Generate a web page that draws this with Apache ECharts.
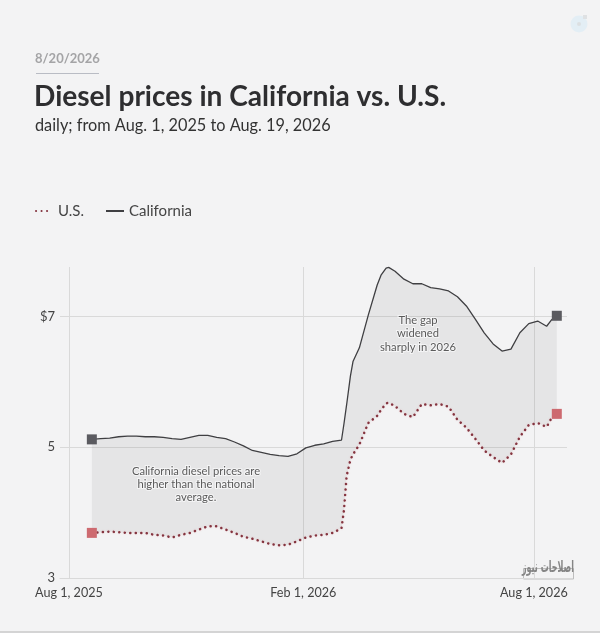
<!DOCTYPE html>
<html><head><meta charset="utf-8">
<style>html,body{margin:0;padding:0;background:#f3f3f4}#c{width:600px;height:633px}</style>
<script src="https://cdn.jsdelivr.net/npm/echarts@6/dist/echarts.min.js"></script>
</head><body><div id="c"></div>
<script>
const dates = ['2025-08-19','2025-08-26','2025-09-02','2025-09-09','2025-09-16','2025-09-23','2025-09-30','2025-10-07','2025-10-14','2025-10-21','2025-10-28','2025-11-04','2025-11-11','2025-11-18','2025-11-25','2025-12-02','2025-12-09','2025-12-16','2025-12-23','2025-12-30','2026-01-06','2026-01-13','2026-01-20','2026-01-27','2026-02-03','2026-02-10','2026-02-17','2026-02-24','2026-03-03','2026-03-05','2026-03-07','2026-03-10','2026-03-12','2026-03-17','2026-03-24','2026-03-31','2026-04-03','2026-04-07','2026-04-09','2026-04-14','2026-04-21','2026-04-28','2026-05-05','2026-05-12','2026-05-19','2026-05-26','2026-06-02','2026-06-09','2026-06-16','2026-06-23','2026-06-30','2026-07-07','2026-07-14','2026-07-21','2026-07-28','2026-08-04','2026-08-11','2026-08-15','2026-08-19'];
const california = [5.12,5.13,5.14,5.16,5.17,5.17,5.16,5.16,5.15,5.13,5.12,5.15,5.18,5.18,5.15,5.13,5.08,5.02,4.95,4.92,4.89,4.87,4.86,4.90,4.99,5.03,5.05,5.09,5.11,5.37,5.65,6.09,6.31,6.52,7.02,7.48,7.63,7.74,7.75,7.69,7.57,7.50,7.50,7.44,7.42,7.39,7.30,7.16,6.96,6.75,6.58,6.47,6.50,6.75,6.89,6.93,6.85,6.95,7.01];
const us = [3.69,3.70,3.71,3.70,3.69,3.69,3.69,3.66,3.65,3.62,3.66,3.69,3.74,3.79,3.79,3.74,3.69,3.63,3.60,3.56,3.52,3.50,3.51,3.56,3.62,3.65,3.66,3.69,3.76,4.05,4.56,4.81,4.89,5.04,5.37,5.48,5.57,5.67,5.68,5.63,5.51,5.46,5.66,5.64,5.66,5.62,5.42,5.30,5.13,4.95,4.85,4.76,4.89,5.16,5.34,5.37,5.31,5.45,5.51];
const xTicks = ['2025-08-01','2026-02-01','2026-08-01'];
const xTickLabels = ['Aug 1, 2025','Feb 1, 2026','Aug 1, 2026'];
const yTicks = [3,5,7];
const yTickLabels = ['3','5','$7'];

const FONT = 'Lato, "Open Sans", sans-serif';
const ts = s => { const p = s.split('-').map(Number); return +new Date(p[0], p[1]-1, p[2]); };
const pairs = arr => dates.map((d,i) => [ts(d), arr[i]]);
const GRID = '#d9d9d9';
const txt = (x,y,text,o) => ({type:'text',x,y,silent:true,style:Object.assign({text,fontFamily:FONT,fill:'#5a5a5a',fontSize:11.2},o)});
const legendText = {fontFamily:FONT,fontSize:15,color:'#444'};

const chart = echarts.init(document.getElementById('c'), null, {renderer:'canvas'});
chart.setOption({
  animation:false,
  backgroundColor:'#f3f3f4',
  grid:{left:60,right:33,top:267,bottom:55,containLabel:false},
  legend:[
    {left:35,top:203,padding:0,itemWidth:14,itemHeight:20,data:['U.S.'],itemStyle:{opacity:0},
     textStyle:Object.assign({padding:[0,0,0,3]},legendText)},
    {left:105,top:203,padding:0,itemWidth:18,itemHeight:20,data:['California'],itemStyle:{opacity:0},
     textStyle:legendText}
  ],
  xAxis:{
    type:'value',min:ts('2025-07-25'),max:ts('2026-08-27'),
    axisLine:{show:true,lineStyle:{color:GRID,width:1}},
    axisTick:{show:false,customValues:xTicks.map(ts)},
    splitLine:{show:true,lineStyle:{color:GRID,width:1}},
    axisLabel:{
      customValues:xTicks.map(ts),
      hideOverlap:false,margin:8,fontFamily:FONT,fontSize:12.6,color:'#444',
      formatter:v=>xTickLabels[xTicks.map(ts).indexOf(+v)]||''
    }
  },
  yAxis:{
    type:'value',min:3,max:7.756,
    axisLine:{show:false},
    axisTick:{show:false,customValues:yTicks},
    splitLine:{show:true,lineStyle:{color:GRID,width:1}},
    axisLabel:{
      customValues:yTicks,margin:5,fontFamily:FONT,fontSize:13,color:'#444',
      formatter:v=>yTickLabels[yTicks.indexOf(+v)]||''
    }
  },
  series:[
    {
      type:'custom',silent:true,z:1,
      data:dates.map((d,i)=>[ts(d),california[i],us[i]]),
      encode:{x:0,y:[1,2]},
      renderItem(params,api){
        if(params.dataIndex!==0) return null;
        const top=dates.map((d,i)=>api.coord([ts(d),california[i]]));
        const bot=dates.map((d,i)=>api.coord([ts(d),us[i]])).reverse();
        return {type:'polygon',shape:{points:top.concat(bot)},style:{fill:'rgba(50,50,50,0.065)'}};
      }
    },
    {
      name:'U.S.',type:'line',z:3,symbol:'none',smooth:false,
      data:pairs(us),
      lineStyle:{color:'#84343f',width:2.5,type:[0.1,5.4],cap:'round',shadowColor:'rgba(225,120,125,0.3)',shadowBlur:2},
      itemStyle:{color:'#84343f'},
      markPoint:{
        symbol:'rect',symbolSize:10,silent:true,label:{show:false},
        itemStyle:{color:'#cd6a70'},
        data:[{coord:[ts(dates[0]),us[0]]},{coord:[ts(dates[dates.length-1]),us[us.length-1]]}]
      }
    },
    {
      name:'California',type:'line',z:4,symbol:'none',smooth:false,
      data:pairs(california),
      lineStyle:{color:'#3f3f42',width:1.3},
      itemStyle:{color:'#3f3f42'},
      markPoint:{
        symbol:'rect',symbolSize:10,silent:true,label:{show:false},
        itemStyle:{color:'#5b5b60'},
        data:[{coord:[ts(dates[0]),california[0]]},{coord:[ts(dates[dates.length-1]),california[california.length-1]]}]
      }
    }
  ],
  graphic:[
    txt(35,52,'8/20/2026',{fontSize:13,fontWeight:'bold',fill:'#a4a4a6'}),
    {type:'line',silent:true,shape:{x1:36,y1:73.5,x2:99,y2:73.5},style:{stroke:'#b9bcc4',lineWidth:1}},
    txt(34,83,'Diesel prices in California vs. U.S.',{fontSize:28.1,fontWeight:'bold',fill:'#2e2e30'}),
    txt(35,118,'daily; from Aug. 1, 2025 to Aug. 19, 2026',{fontSize:16.3,fill:'#333'}),
    ...['California diesel prices are','higher than the national','average.'].map((t,i)=>
      Object.assign(txt(196,466+i*13,t,{align:'center',stroke:'#f5f5f6',lineWidth:2}),{z:10})),
    ...['The gap','widened','sharply in 2026'].map((t,i)=>
      Object.assign(txt(418,315+i*13.3,t,{align:'center',stroke:'#f5f5f6',lineWidth:2}),{z:10})),
    {type:'circle',silent:true,shape:{cx:579,cy:24,r:8.5},style:{fill:'#e3eef5'}},
    {type:'rect',silent:true,shape:{x:583,y:15,width:4,height:4},style:{fill:'#dfe1e3'}},
    {type:'circle',silent:true,shape:{cx:579,cy:24,r:2},style:{fill:'#dcdfe2'}},
    {type:'rect',silent:true,shape:{x:523.5,y:568.5,width:50,height:10.5},style:{fill:'none',stroke:'#bdbdbd',lineWidth:1}},
    {type:'text',silent:true,x:548,y:576,scaleY:2,z:10,
     style:{text:'اصلاحات نیوز',align:'center',verticalAlign:'bottom',fontFamily:'"DejaVu Sans"',fontSize:8,fontWeight:'bold',fill:'#858585'}},
    {type:'line',silent:true,shape:{x1:0,y1:632,x2:600,y2:632},style:{stroke:'#b5b5b5',lineWidth:1}}
  ]
});
</script></body></html>
